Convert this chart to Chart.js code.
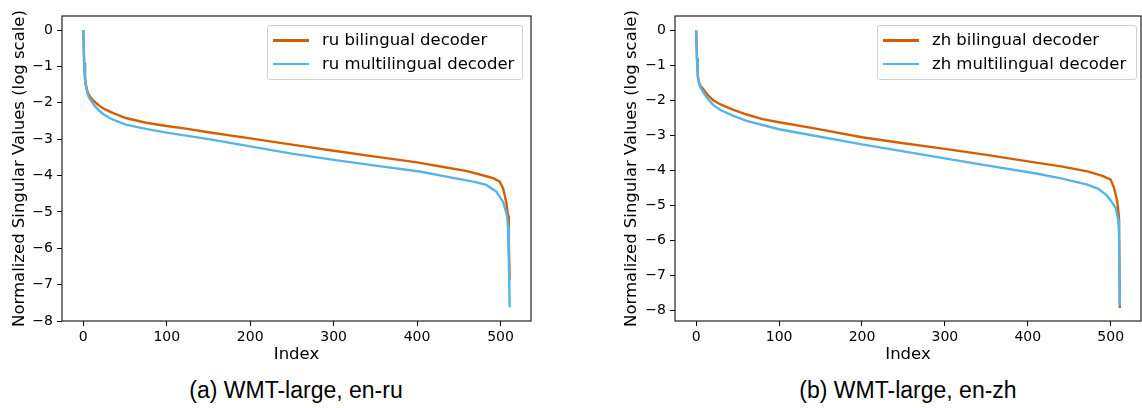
<!DOCTYPE html>
<html>
<head>
<meta charset="utf-8">
<script src="https://cdn.jsdelivr.net/npm/chart.js@4.4.1/dist/chart.umd.min.js"></script>
<style>
  body { margin: 0; background: #fff; }
  #wrap { position: relative; width: 1142px; height: 408px; overflow: hidden; }
  .panel { position: absolute; top: 0; height: 370px; }
  .legend { position: absolute; top: 25px; height: 55px; border: 1px solid #d0d0d0; border-radius: 3px;
            background: rgba(255,255,255,0.85); box-sizing: border-box; font: 16.5px 'DejaVu Sans'; color: #000; }
  .legend .row { position: absolute; left: 0; height: 20px; white-space: nowrap; }
  .legend .swatch { position: absolute; left: 5px; top: 9px; width: 36px; height: 2.5px; }
  .legend .txt { position: absolute; left: 54px; top: 0; line-height: 20px; }
  .caption { position: absolute; top: 377px; font: 23px 'Liberation Sans', Arial, sans-serif; color: #000; transform: translateX(-50%); white-space: nowrap; }
</style>
</head>
<body>
<div id="wrap">
  <canvas id="chartRu" class="panel" style="left:0px" width="560" height="370"></canvas>
  <canvas id="chartZh" class="panel" style="left:612px" width="530" height="370"></canvas>
  <div id="legendRu" class="legend" style="left:267px; width:256px"></div>
  <div id="legendZh" class="legend" style="left:877px; width:260px"></div>
  <div class="caption" style="left:296px">(a) WMT-large, en-ru</div>
  <div class="caption" style="left:908px">(b) WMT-large, en-zh</div>
</div>
<script>
// Colores de las dos series (bilingüe / multilingüe)
const ORANGE = '#d55e00';
const SKY = '#56b4e9';

// Marcas de los ejes
const xTicks = [0, 100, 200, 300, 400, 500];
const yTicks = [-8, -7, -6, -5, -4, -3, -2, -1, 0];

// --- en-ru: índices y valores ---
const ruBiIdx = [0, 1, 2, 3, 5, 7, 11, 15, 19, 25, 35, 51, 75, 100, 123, 150, 200, 250, 300, 350, 400, 430, 460, 483, 492, 499, 503, 505, 507, 509, 510, 511];
const ruBi = [0, -0.9, -1.3, -1.5, -1.7, -1.8, -1.92, -2.0, -2.08, -2.17, -2.28, -2.42, -2.55, -2.64, -2.71, -2.81, -2.98, -3.15, -3.32, -3.48, -3.64, -3.76, -3.88, -4.02, -4.08, -4.17, -4.35, -4.53, -4.75, -5.1, -5.9, -6.87];
const ruMultiIdx = [0, 1, 2, 3, 5, 7, 11, 15, 19, 25, 35, 51, 75, 100, 150, 200, 250, 300, 350, 403, 440, 470, 483, 495, 503, 506, 508, 509, 510, 511];
const ruMulti = [0, -0.95, -1.35, -1.52, -1.75, -1.87, -2.0, -2.12, -2.22, -2.33, -2.46, -2.6, -2.72, -2.82, -3.0, -3.2, -3.4, -3.57, -3.73, -3.89, -4.05, -4.18, -4.26, -4.44, -4.72, -4.95, -5.13, -5.4, -6.3, -7.62];

// --- en-zh ---
const zhBiIdx = [0, 1, 2, 3, 5, 9, 14, 21, 30, 45, 61, 80, 100, 141, 200, 250, 300, 350, 412, 440, 472, 490, 500, 504, 508, 510, 511];
const zhBi = [0, -0.8, -1.3, -1.45, -1.58, -1.69, -1.85, -2.0, -2.12, -2.27, -2.4, -2.53, -2.62, -2.79, -3.05, -3.22, -3.38, -3.55, -3.78, -3.88, -4.02, -4.15, -4.26, -4.49, -4.88, -5.35, -7.92];
const zhMultiIdx = [0, 1, 2, 3, 5, 9, 14, 21, 30, 45, 61, 80, 100, 141, 200, 250, 300, 350, 412, 440, 472, 485, 495, 500, 506, 509, 510, 511];
const zhMulti = [0, -0.85, -1.3, -1.48, -1.62, -1.78, -1.95, -2.14, -2.28, -2.44, -2.58, -2.7, -2.82, -3.0, -3.25, -3.45, -3.65, -3.85, -4.09, -4.22, -4.4, -4.52, -4.7, -4.85, -5.06, -5.4, -5.69, -7.85];

Chart.defaults.font.family = 'DejaVu Sans';
Chart.defaults.color = '#000';

const pts = (xs, ys) => xs.map((x, i) => ({ x, y: ys[i] }));
const minus = (v) => String(v).replace('-', '\u2212');

// Marco completo alrededor del área de la gráfica
const frame = {
    id: 'frame',
    afterDraw(chart) {
        const a = chart.chartArea, ctx = chart.ctx;
        ctx.save();
        ctx.strokeStyle = '#222';
        ctx.lineWidth = 1.2;
        ctx.strokeRect(a.left, a.top, a.right - a.left, a.bottom - a.top);
        ctx.restore();
    }
};

function makePanel(id, legendId, lang, bi, multi, yMin, yMax, yAxisWidth, rightPad) {
    const datasets = [
        { label: lang + ' bilingual decoder', data: bi, borderColor: ORANGE, order: 1 },
        { label: lang + ' multilingual decoder', data: multi, borderColor: SKY, order: 0 }
    ];
    new Chart(document.getElementById(id), {
        type: 'line',
        data: { datasets: datasets.map(d => ({ ...d, borderWidth: 2.4, pointRadius: 0, tension: 0, fill: false })) },
        options: {
            responsive: false, animation: false,
            layout: { padding: { top: 16, right: rightPad, bottom: 0, left: 0 } },
            plugins: { legend: { display: false }, tooltip: { enabled: false } },
            scales: {
                x: {
                    type: 'linear', min: -25.55, max: 536.55,
                    afterBuildTicks: (s) => { s.ticks = xTicks.map(v => ({ value: v })); },
                    afterFit: (s) => { s.height = 49; },
                    ticks: { font: { size: 14 }, padding: 3, maxRotation: 0, callback: (v) => minus(v) },
                    grid: { drawOnChartArea: false, tickLength: 5, color: '#000' },
                    border: { display: false },
                    title: { display: true, text: 'Index', font: { size: 16.5 }, padding: { top: 0, bottom: 5 } }
                },
                y: {
                    type: 'linear', min: yMin, max: yMax,
                    afterBuildTicks: (s) => { s.ticks = yTicks.map(v => ({ value: v })); },
                    afterFit: (s) => { s.width = yAxisWidth; },
                    ticks: { font: { size: 14 }, padding: 4, callback: (v) => minus(v) },
                    grid: { drawOnChartArea: false, tickLength: 5, color: '#000' },
                    border: { display: false },
                    title: { display: true, text: 'Normalized Singular Values (log scale)', font: { size: 16.5 }, padding: { top: 10, bottom: 0 } }
                }
            }
        },
        plugins: [frame]
    });

    // Leyenda en HTML, dentro del área de la gráfica (arriba a la derecha)
    const box = document.getElementById(legendId);
    datasets.forEach((d, i) => {
        const row = document.createElement('div');
        row.className = 'row';
        row.style.top = (4 + i * 23.5) + 'px';
        row.innerHTML = '<span class="swatch" style="background:' + d.borderColor + '"></span><span class="txt">' + d.label + '</span>';
        box.appendChild(row);
    });
}

makePanel('chartRu', 'legendRu', 'ru', pts(ruBiIdx, ruBi), pts(ruMultiIdx, ruMulti), -8, 0.385, 62, 29);
makePanel('chartZh', 'legendZh', 'zh', pts(zhBiIdx, zhBi), pts(zhMultiIdx, zhMulti), -8.29, 0.41, 63, 1);
</script>
</body>
</html>
